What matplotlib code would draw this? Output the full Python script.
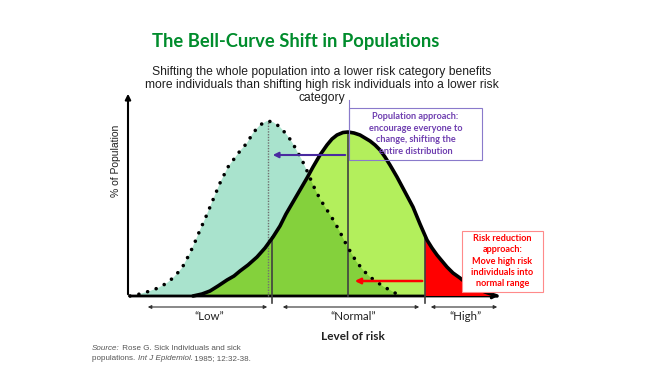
import matplotlib.pyplot as plt
from matplotlib.patches import Polygon, Rectangle

low_x = [2, 12, 22, 30, 39, 46, 54, 62, 67, 72, 77, 82, 87, 92, 96, 100, 106, 112, 119, 125, 132, 139,
         145, 152, 159, 164, 169, 174, 180, 185, 192, 199, 206, 212, 217, 222, 228, 235, 242, 249, 256,
         262, 267, 272]
low_y = [0, 2, 5, 8, 13, 19, 28, 43, 54, 66, 77, 89, 101, 113, 121, 129, 137, 145, 153, 163, 171, 175,
         174, 169, 161, 154, 145, 136, 123, 111, 97, 86, 75, 64, 54, 45, 35, 26, 19, 14, 9,
         6, 3, 1]

pop_x = [65, 74, 82, 90, 99, 106, 112, 120, 129, 137, 145, 152, 158, 165, 172, 179, 185, 192, 199, 204,
         209, 215, 220, 226, 232, 237, 242, 247, 252, 257, 262, 269, 277, 285, 292, 299, 304, 309, 314,
         319, 325, 332, 337, 342, 350, 357, 363, 369]
pop_y = [0, 2, 5, 10, 16, 20, 25, 31, 39, 48, 59, 70, 82, 94, 106, 118, 129, 141, 151, 157,
         161, 163.5, 164, 163, 161, 158, 155, 151, 146, 139, 131, 119, 104, 89, 72, 56, 48, 41, 35,
         29, 23, 18, 14, 11, 7, 4, 2, 0]

cut_low = 145      # Grenze "Low" / "Normal"
cut_high = 297     # Grenze "Normal" / "High"
mean_low = 140
mean_pop = 220

range_labels = ['\u201cLow\u201d', '\u201cNormal\u201d', '\u201cHigh\u201d']
range_spans = [(17, 142), (152, 294), (300, 372)]

calibri = ['Lato', 'DejaVu Sans']
arial = ['Liberation Sans', 'DejaVu Sans']

fig = plt.figure(figsize=(6.69, 3.75), dpi=100)
ax = fig.add_axes([0, 0, 1, 1])
ax.set_xlim(-128, 669 - 128)
ax.set_ylim(296 - 375, 296)
ax.axis('off')

teal = '#a9e3cd'
light_green = '#b3ef5c'
dark_green = '#84d13c'

low_pts = list(zip(low_x, low_y))
pop_pts = list(zip(pop_x, pop_y))

ax.add_patch(Polygon(low_pts, closed=True, facecolor=teal, edgecolor='none', zorder=1))
ax.add_patch(Polygon(pop_pts, closed=True, facecolor=light_green, edgecolor='none', zorder=2))

# Ueberlappung: dunkleres Gruen
overlap = Polygon(low_pts, closed=True, facecolor=dark_green, edgecolor='none', zorder=3)
ax.add_patch(overlap)
overlap.set_clip_path(Polygon(pop_pts, closed=True, transform=ax.transData))

# Hochrisiko-Bereich rot
red = Polygon(pop_pts, closed=True, facecolor='#ff0000', edgecolor='none', zorder=4)
ax.add_patch(red)
red.set_clip_path(Rectangle((cut_high, -5), 200, 300, transform=ax.transData))

# Kurven
ax.plot(low_x, low_y, color='black', lw=2.6, linestyle=(0, (0.01, 2.5)),
        dash_capstyle='round', zorder=6)
ax.plot(pop_x, pop_y, color='black', lw=2.6, solid_capstyle='round',
        solid_joinstyle='round', zorder=7)

# senkrechte Linien
ax.plot([mean_low, mean_low], [0, 175], color='#707070', lw=1.0, linestyle=(0, (1, 1)), zorder=5)
ax.plot([mean_pop, mean_pop], [0, 164], color='#404040', lw=1.2, zorder=5)
ax.plot([mean_pop + 1, mean_pop + 1], [164, 196], color='#8a7acb', lw=0.8, zorder=5)
ax.plot([cut_low - 1, cut_low - 1], [-7, 59], color='#404040', lw=1.2, zorder=5)
ax.plot([cut_high, cut_high], [-7, 59], color='#404040', lw=1.2, zorder=5)

# Achsen
ax.annotate('', xy=(0, 205), xytext=(0, -1),
            arrowprops=dict(arrowstyle='-|>', color='black', lw=1.5, mutation_scale=8))
ax.annotate('', xy=(373, 0), xytext=(-1, 0),
            arrowprops=dict(arrowstyle='-|>', color='black', lw=2.0, mutation_scale=7))

# Pfeile der beiden Ansaetze
ax.annotate('', xy=(142, 141), xytext=(mean_pop, 141),
            arrowprops=dict(arrowstyle='-|>', color='#4a2aa0', lw=1.5, mutation_scale=8), zorder=8)
ax.annotate('', xy=(224, 15), xytext=(cut_high, 15),
            arrowprops=dict(arrowstyle='-|>', color='#ff0000', lw=1.8, mutation_scale=8), zorder=8)

# Bereichspfeile unten
for (x0, x1), lab in zip(range_spans, range_labels):
    ax.annotate('', xy=(x0, -11), xytext=(x1, -11),
                arrowprops=dict(arrowstyle='<|-|>', color='#303030', lw=0.8, mutation_scale=5))
    ax.text((x0 + x1) / 2 + 2, -21, lab, ha='center', va='center', fontsize=8.3,
            family=calibri, color='#202020')

ax.text(225, -41, 'Level of risk', ha='center', va='center', fontsize=8.5,
        family=calibri, fontweight='bold', color='#202020')

ax.text(-12, 135, '% of Population', rotation=90, ha='center', va='center',
        fontsize=7.5, family=arial, color='#202020')

# Kaesten
ax.add_patch(Rectangle((221, 136), 133, 52, facecolor='none', edgecolor='#8a7acb',
                       lw=0.8, zorder=9))
ax.text(287.5, 162, 'Population approach:\nencourage everyone to\nchange, shifting the\nentire distribution',
        ha='center', va='center', fontsize=6.6, family=calibri, fontweight='bold',
        color='#6f3fb0', linespacing=1.35, zorder=10)

ax.add_patch(Rectangle((334, 4), 81, 61, facecolor='white', edgecolor='#ff8a8a',
                       lw=0.8, zorder=9))
ax.text(374.5, 35, 'Risk reduction\napproach:\nMove high risk\nindividuals into\nnormal range',
        ha='center', va='center', fontsize=6.6, family=calibri, fontweight='bold',
        color='#ff0000', linespacing=1.3, zorder=10)

# Titel
fig.text(296 / 669, 1 - 41 / 375, 'The Bell-Curve Shift in Populations', ha='center', va='center',
         fontsize=13.2, family=calibri, fontweight='bold', color='#008c2c')
fig.text(322 / 669, 1 - 85 / 375,
         'Shifting the whole population into a lower risk category benefits\n'
         'more individuals than shifting high risk individuals into a lower risk\n'
         'category', ha='center', va='center', fontsize=8.7, family=arial,
         color='#202020', linespacing=1.15)

# Quelle
src = fig.text(92 / 669, 1 - 349 / 375, 'Source:', fontsize=5.8, family=arial,
               style='italic', color='#555555', va='center')
ax.annotate(' Rose G. Sick Individuals and sick', xy=(1, 0), xycoords=src,
            va='bottom', fontsize=5.8, family=arial, color='#555555')
p2 = fig.text(92 / 669, 1 - 359 / 375, 'populations. ', fontsize=5.8, family=arial,
              color='#555555', va='center')
p3 = ax.annotate('Int J Epidemiol.', xy=(1, 0), xycoords=p2, va='bottom', fontsize=5.8,
                 family=arial, style='italic', color='#555555')
ax.annotate(' 1985; 12:32-38.', xy=(1, 0), xycoords=p3, va='bottom', fontsize=5.8,
            family=arial, color='#555555')

fig.savefig('out.png', dpi=100)
